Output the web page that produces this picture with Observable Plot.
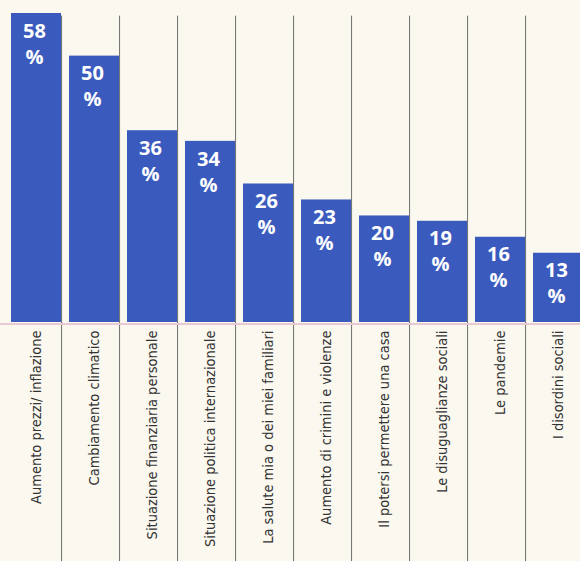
<!DOCTYPE html>
<html>
<head>
<meta charset="utf-8">
<script src="https://cdn.jsdelivr.net/npm/d3@7"></script>
<script src="https://cdn.jsdelivr.net/npm/@observablehq/plot@0.6"></script>
<style>
  html, body { margin: 0; padding: 0; background: #faf8ef; }
  #chart svg { display: block; }
</style>
</head>
<body>
<div id="chart"></div>
<script>
const categories = [
  "Aumento prezzi/ inflazione",
  "Cambiamento climatico",
  "Situazione finanziaria personale",
  "Situazione politica internazionale",
  "La salute mia o dei miei familiari",
  "Aumento di crimini e violenze",
  "Il potersi permettere una casa",
  "Le disuguaglianze sociali",
  "Le pandemie",
  "I disordini sociali"
];
const values = [58, 50, 36, 34, 26, 23, 20, 19, 16, 13];

const data = categories.map((c, i) => ({category: c, value: values[i]}));

const W = 580, H = 561;
const range = [5, 588];
const pInner = 0.14, pOuter = 0.07;
const step = (range[1] - range[0]) / (categories.length - pInner + 2 * pOuter);
const bw = step * (1 - pInner);

const chart = Plot.plot({
  width: W,
  height: H,
  marginTop: 13,
  marginBottom: 239,
  marginLeft: 0,
  marginRight: 0,
  style: {background: "#faf8ef", fontFamily: "'Liberation Sans Narrow', 'DejaVu Sans Condensed', sans-serif"},
  x: {domain: categories, range, paddingInner: pInner, paddingOuter: pOuter, label: null},
  y: {domain: [0, 58], axis: null},
  marks: [
    Plot.ruleX(categories, {x: d => d, y1: 57.5, y2: -46, dx: bw / 2, stroke: "#6e6e6e", strokeWidth: 1}),
    Plot.barY(data, {x: "category", y: "value", fill: "#3a5bbd"}),
    Plot.ruleY([0], {stroke: "#e9c9d2", strokeWidth: 2, dy: 1.5}),
    Plot.text(data, {
      x: "category", y: "value", text: d => String(d.value),
      fill: "white", fontWeight: "bold", fontSize: 20,
      lineAnchor: "top", dy: 10, dx: -2,
      fontFamily: "'Open Sans', 'Noto Sans', sans-serif"
    }),
    Plot.text(data, {
      x: "category", y: "value", text: () => "%",
      fill: "white", fontWeight: "bold", fontSize: 20,
      lineAnchor: "top", dy: 36, dx: -2,
      fontFamily: "'Open Sans', 'Noto Sans', sans-serif"
    }),
    Plot.axisX({tickRotate: -90, tickSize: 0, tickPadding: 8, fontSize: 14.5, fill: "#333", label: null})
  ]
});
document.getElementById("chart").appendChild(chart);
</script>
</body>
</html>
